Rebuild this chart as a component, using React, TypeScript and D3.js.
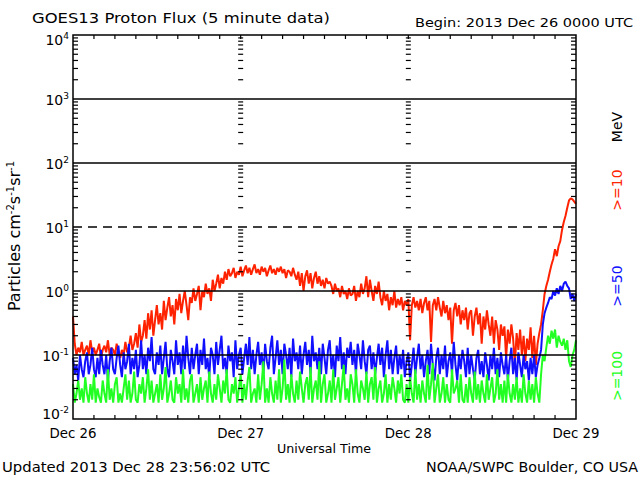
// @ts-nocheck

import React from 'react'
import * as d3 from 'd3'

// GOES13 proton flux, 5 minute data, every 15 minutes
// (one row per hour)
const begin = new Date(Date.UTC(2013, 11, 26))
const end = new Date(Date.UTC(2013, 11, 29))
const stepMinutes = 15

const dayLabels = ['Dec 26', 'Dec 27', 'Dec 28', 'Dec 29']
const decades = [4, 3, 2, 1, 0, -1, -2]
const solidDecades = [3, 2, 0, -1]
const dashedDecades = [1]
const channelLabels = ['>=10', '>=50', '>=100']

const p10 = [
  0.4, 0.15, 0.1, 0.13,
  0.11, 0.16, 0.1, 0.12,
  0.14, 0.1, 0.17, 0.11,
  0.13, 0.1, 0.12, 0.15,
  0.09, 0.12, 0.14, 0.11,
  0.17, 0.1, 0.13, 0.12,
  0.1, 0.15, 0.11, 0.09,
  0.12, 0.1, 0.16, 0.11,
  0.13, 0.2, 0.12, 0.15,
  0.22, 0.13, 0.3, 0.16,
  0.2, 0.35, 0.18, 0.45,
  0.25, 0.5, 0.2, 0.35,
  0.6, 0.3, 0.45, 0.25,
  0.7, 0.35, 0.55, 0.8,
  0.4, 0.6, 0.3, 0.75,
  0.5, 0.9, 0.45, 0.7,
  1.0, 0.6, 0.35, 0.8,
  0.65, 1.1, 0.7, 0.9,
  1.2, 0.5, 1.0, 0.8,
  1.3, 0.9, 1.1, 0.7,
  1.5, 1.0, 1.3, 1.8,
  1.1, 1.6, 1.3, 2.0,
  1.5, 2.2, 1.7, 1.9,
  2.3, 1.6, 2.0, 1.8,
  2.4, 1.7, 2.1, 2.5,
  1.9, 2.3, 1.8, 2.2,
  2.6, 1.9, 2.2, 1.8,
  2.4, 2.0, 2.3, 1.7,
  2.1, 2.5, 1.9, 2.2,
  1.8, 2.3, 2.0, 2.4,
  1.9, 2.2, 1.6, 2.1,
  2.0, 1.7, 2.3, 1.8,
  1.5, 2.0, 1.2, 1.9,
  1.0, 1.7, 2.1, 1.3,
  1.9, 1.1, 1.6, 2.0,
  1.3, 1.7, 1.2, 1.5,
  1.1, 1.6, 1.3, 1.4,
  1.2, 0.9, 1.3, 1.0,
  1.1, 0.8, 1.2, 0.9,
  1.0, 0.75, 1.1, 0.85,
  0.9, 1.2, 0.7, 1.0,
  0.8, 1.3, 0.9, 1.1,
  1.7, 0.8, 1.5, 1.0,
  0.7, 1.2, 0.9, 1.4,
  0.8, 0.6, 1.0, 0.7,
  0.9, 0.5, 0.8, 0.6,
  1.0, 0.55, 0.75, 0.6,
  0.8, 0.5, 0.7, 0.6,
  0.75, 0.17, 0.6, 0.8,
  0.55, 0.7, 0.5, 0.75,
  0.45, 0.65, 0.8, 0.5,
  0.7, 0.16, 0.6, 0.75,
  0.5, 0.8, 0.55, 0.4,
  0.7, 0.45, 0.6, 0.35,
  0.55, 0.15, 0.5, 0.65,
  0.4, 0.6, 0.3, 0.5,
  0.35, 0.55, 0.25, 0.45,
  0.5, 0.2, 0.4, 0.55,
  0.3, 0.45, 0.15, 0.4,
  0.25, 0.5, 0.3, 0.2,
  0.4, 0.15, 0.35, 0.25,
  0.12, 0.3, 0.2, 0.28,
  0.09, 0.25, 0.15, 0.3,
  0.18, 0.07, 0.22, 0.12,
  0.25, 0.1, 0.2, 0.08,
  0.18, 0.12, 0.27, 0.09,
  0.2, 0.07, 0.15, 0.22,
  0.3, 0.5, 0.9, 1.2,
  1.5, 2.0, 2.6, 3.2,
  4.5, 3.5, 5.0, 6.0,
  9, 12, 15, 20,
  26, 28, 27, 25,
  23,
]

const p50 = [
  0.09, 0.05, 0.07, 0.04,
  0.1, 0.06, 0.045, 0.08,
  0.11, 0.05, 0.07, 0.13,
  0.06, 0.045, 0.09, 0.05,
  0.12, 0.07, 0.05, 0.1,
  0.04, 0.08, 0.13, 0.06,
  0.05, 0.09, 0.14, 0.07,
  0.045, 0.11, 0.06, 0.08,
  0.15, 0.05, 0.09, 0.06,
  0.12, 0.045, 0.07, 0.17,
  0.06, 0.1, 0.05, 0.13,
  0.08, 0.19, 0.06, 0.05,
  0.11, 0.07, 0.14, 0.05,
  0.09, 0.16, 0.06, 0.045,
  0.12, 0.08, 0.05, 0.17,
  0.07, 0.11, 0.05, 0.14,
  0.06, 0.2, 0.09, 0.05,
  0.13, 0.06, 0.1, 0.15,
  0.05, 0.12, 0.07, 0.18,
  0.06, 0.09, 0.045, 0.13,
  0.1, 0.05, 0.16, 0.07,
  0.12, 0.2, 0.06, 0.09,
  0.05, 0.14, 0.08, 0.11,
  0.045, 0.17, 0.06, 0.1,
  0.13, 0.05, 0.09, 0.15,
  0.07, 0.19, 0.06, 0.12,
  0.05, 0.1, 0.16, 0.07,
  0.11, 0.05, 0.15, 0.08,
  0.06, 0.13, 0.2, 0.05,
  0.09, 0.17, 0.07, 0.12,
  0.05, 0.15, 0.1, 0.06,
  0.13, 0.045, 0.18, 0.08,
  0.11, 0.06, 0.14, 0.05,
  0.1, 0.16, 0.07, 0.12,
  0.05, 0.2, 0.08, 0.11,
  0.06, 0.13, 0.05, 0.15,
  0.09, 0.05, 0.12, 0.17,
  0.06, 0.1, 0.045, 0.14,
  0.08, 0.19, 0.06, 0.11,
  0.05, 0.13, 0.09, 0.16,
  0.07, 0.12, 0.05, 0.15,
  0.1, 0.06, 0.17, 0.08,
  0.05, 0.12, 0.14, 0.06,
  0.11, 0.05, 0.09, 0.15,
  0.07, 0.13, 0.045, 0.1,
  0.17, 0.06, 0.12, 0.05,
  0.09, 0.14, 0.05, 0.1,
  0.06, 0.12, 0.045, 0.08,
  0.11, 0.04, 0.07, 0.13,
  0.05, 0.09, 0.15, 0.06,
  0.1, 0.045, 0.08, 0.12,
  0.05, 0.15, 0.07, 0.04,
  0.09, 0.13, 0.05, 0.1,
  0.06, 0.14, 0.045, 0.08,
  0.11, 0.05, 0.16, 0.07,
  0.04, 0.1, 0.06, 0.12,
  0.08, 0.045, 0.13, 0.05,
  0.1, 0.06, 0.04, 0.09,
  0.12, 0.05, 0.08, 0.045,
  0.11, 0.07, 0.04, 0.1,
  0.06, 0.13, 0.05, 0.09,
  0.045, 0.11, 0.07, 0.05,
  0.1, 0.04, 0.08, 0.13,
  0.05, 0.09, 0.04, 0.11,
  0.07, 0.045, 0.1, 0.06,
  0.08, 0.04, 0.09, 0.05,
  0.1, 0.045, 0.07, 0.09,
  0.12, 0.3, 0.45, 0.55,
  0.65, 0.8, 0.75, 1.0,
  0.85, 1.1, 0.9, 1.2,
  1.0, 1.3, 1.4, 1.2,
  1.1, 0.75, 0.9, 0.7,
  0.9,
]

const p100 = [
  0.035, 0.018, 0.025, 0.04,
  0.02, 0.03, 0.018, 0.045,
  0.025, 0.018, 0.035, 0.02,
  0.05, 0.018, 0.03, 0.022,
  0.018, 0.04, 0.025, 0.018,
  0.06, 0.02, 0.03, 0.018,
  0.035, 0.045, 0.018, 0.025,
  0.018, 0.03, 0.05, 0.02,
  0.04, 0.018, 0.025, 0.055,
  0.02, 0.018, 0.035, 0.025,
  0.045, 0.018, 0.03, 0.06,
  0.02, 0.04, 0.018, 0.025,
  0.035, 0.018, 0.05, 0.02,
  0.03, 0.065, 0.018, 0.025,
  0.04, 0.02, 0.018, 0.045,
  0.025, 0.035, 0.018, 0.06,
  0.02, 0.03, 0.018, 0.04,
  0.05, 0.018, 0.025, 0.035,
  0.018, 0.045, 0.02, 0.03,
  0.04, 0.018, 0.055, 0.025,
  0.018, 0.035, 0.02, 0.05,
  0.03, 0.018, 0.04, 0.025,
  0.06, 0.02, 0.018, 0.035,
  0.025, 0.045, 0.018, 0.03,
  0.05, 0.018, 0.035, 0.02,
  0.04, 0.065, 0.018, 0.025,
  0.03, 0.018, 0.05, 0.02,
  0.035, 0.08, 0.018, 0.03,
  0.018, 0.045, 0.025, 0.018,
  0.04, 0.02, 0.06, 0.018,
  0.03, 0.085, 0.02, 0.035,
  0.018, 0.05, 0.025, 0.018,
  0.04, 0.02, 0.055, 0.03,
  0.018, 0.035, 0.045, 0.02,
  0.065, 0.018, 0.03, 0.04,
  0.02, 0.08, 0.018, 0.035,
  0.05, 0.018, 0.025, 0.04,
  0.018, 0.06, 0.02, 0.03,
  0.045, 0.018, 0.035, 0.07,
  0.02, 0.03, 0.018, 0.05,
  0.035, 0.018, 0.06, 0.025,
  0.018, 0.04, 0.03, 0.02,
  0.055, 0.018, 0.035, 0.045,
  0.02, 0.065, 0.018, 0.03,
  0.04, 0.018, 0.025, 0.05,
  0.018, 0.035, 0.02, 0.045,
  0.03, 0.018, 0.04, 0.025,
  0.05, 0.02, 0.018, 0.035,
  0.018, 0.045, 0.025, 0.018,
  0.06, 0.02, 0.035, 0.018,
  0.04, 0.025, 0.018, 0.07,
  0.02, 0.035, 0.075, 0.018,
  0.03, 0.05, 0.018, 0.025,
  0.045, 0.018, 0.035, 0.02,
  0.018, 0.06, 0.025, 0.03,
  0.04, 0.018, 0.05, 0.02,
  0.018, 0.035, 0.018, 0.045,
  0.025, 0.018, 0.055, 0.02,
  0.035, 0.018, 0.04, 0.025,
  0.018, 0.05, 0.02, 0.03,
  0.045, 0.018, 0.025, 0.06,
  0.02, 0.035, 0.018, 0.04,
  0.018, 0.05, 0.025, 0.018,
  0.035, 0.02, 0.045, 0.018,
  0.03, 0.018, 0.05, 0.025,
  0.018, 0.04, 0.02, 0.035,
  0.018, 0.045, 0.025, 0.018,
  0.05, 0.1, 0.08, 0.13,
  0.2, 0.15, 0.24, 0.18,
  0.25, 0.13, 0.2, 0.16,
  0.14, 0.18, 0.12, 0.17,
  0.08, 0.065, 0.1, 0.12,
  0.17,
]

const series = [
  { values: p10, color: '#ff2200' },
  { values: p50, color: '#1010ff' },
  { values: p100, color: '#22ff22' },
]
const labelColors = ['#ff2200', '#1010ff', '#22ff22']

const margin = { left: 73, top: 35, right: 64, bottom: 61 }
const W = 640
const H = 480
const font = 'DejaVu Sans, sans-serif'

const App = () => {
  const x = d3.scaleUtc().domain([begin, end]).range([margin.left, W - margin.right])
  const y = d3.scaleLog().domain([1e-2, 1e4]).range([H - margin.bottom, margin.top])
  const [x0, x1] = x.range()
  const [y0, y1] = y.range()

  const sampleTime = (i) => new Date(begin.getTime() + i * stepMinutes * 60000)
  const line = d3
    .line()
    .x((d, i) => x(sampleTime(i)))
    .y((d) => y(d))

  const minor = []
  for (let e = -2; e < 4; e += 1) {
    for (let k = 2; k < 10; k += 1) minor.push(k * 10 ** e)
  }
  const hourTicks = d3.utcHour.every(3).range(begin, end).slice(1)
  const days = d3.utcDay.range(begin, d3.utcDay.offset(end, 1))
  const innerDays = days.slice(1, -1)

  return (
    <svg
      width={W}
      height={H}
      style={{ position: 'absolute', left: 0, top: 0, background: '#fff' }}
      fontFamily={font}
    >
      {/* data */}
      {series.map((s, k) => (
        <path
          key={k}
          d={line(s.values)}
          fill="none"
          stroke={s.color}
          strokeWidth={2}
          strokeLinejoin="bevel"
        />
      ))}

      {/* grid */}
      {solidDecades.map((e) => (
        <line key={e} x1={x0} x2={x1} y1={y(10 ** e)} y2={y(10 ** e)} stroke="#000" strokeWidth={1.5} />
      ))}
      {dashedDecades.map((e) => (
        <line
          key={e}
          x1={x0}
          x2={x1}
          y1={y(10 ** e)}
          y2={y(10 ** e)}
          stroke="#000"
          strokeWidth={1.5}
          strokeDasharray="9 6"
        />
      ))}

      {/* log minor ticks: axes and day columns */}
      {minor.map((v) => (
        <g key={v} stroke="#000" strokeWidth={1.2}>
          <line x1={x0} x2={x0 + 5} y1={y(v)} y2={y(v)} />
          <line x1={x1 - 5} x2={x1} y1={y(v)} y2={y(v)} />
          {innerDays.map((d) => (
            <line key={+d} x1={x(d) - 2.5} x2={x(d) + 2.5} y1={y(v)} y2={y(v)} />
          ))}
        </g>
      ))}

      {/* time ticks */}
      {hourTicks.map((t) => (
        <g key={+t} stroke="#000" strokeWidth={1.2}>
          <line x1={x(t)} x2={x(t)} y1={y0} y2={y0 - 4} />
          <line x1={x(t)} x2={x(t)} y1={y1} y2={y1 + 4} />
        </g>
      ))}

      <rect x={x0} y={y1} width={x1 - x0} height={y0 - y1} fill="none" stroke="#000" strokeWidth={1.5} />

      {/* y tick labels */}
      {decades.map((e) => {
        let base = y(10 ** e) + 6
        if (e === 4) base = y(10 ** e) + 10
        if (e === -2) base = y(10 ** e)
        return (
          <text key={e} x={69} y={base} textAnchor="end" fontSize={14}>
            10
            <tspan dy={-6} fontSize={9}>
              {e}
            </tspan>
          </text>
        )
      })}

      {/* day labels */}
      {days.map((d, i) => (
        <text key={+d} x={x(d)} y={438} textAnchor="middle" fontSize={14} textLength={47} lengthAdjust="spacingAndGlyphs">
          {dayLabels[i]}
        </text>
      ))}

      <text x={324} y={453} textAnchor="middle" fontSize={13} textLength={94} lengthAdjust="spacingAndGlyphs">
        Universal Time
      </text>
      <text x={32} y={23} fontSize={14} textLength={298} lengthAdjust="spacingAndGlyphs">
        GOES13 Proton Flux (5 minute data)
      </text>
      <text x={415} y={27} fontSize={13} textLength={218} lengthAdjust="spacingAndGlyphs">
        Begin: 2013 Dec 26 0000 UTC
      </text>
      <text x={2} y={472} fontSize={14} textLength={268} lengthAdjust="spacingAndGlyphs">
        Updated 2013 Dec 28 23:56:02 UTC
      </text>
      <text x={638} y={472} textAnchor="end" fontSize={14} textLength={212} lengthAdjust="spacingAndGlyphs">
        NOAA/SWPC Boulder, CO USA
      </text>

      {/* y axis title */}
      <text transform="translate(20,236) rotate(-90)" textAnchor="middle" fontSize={16}>
        Particles cm
        <tspan dy={-6} fontSize={10}>-2</tspan>
        <tspan dy={6}>s</tspan>
        <tspan dy={-6} fontSize={10}>-1</tspan>
        <tspan dy={6}>sr</tspan>
        <tspan dy={-6} fontSize={10}>-1</tspan>
      </text>

      {/* channel legend */}
      <text transform="translate(622,127) rotate(-90)" textAnchor="middle" fontSize={14}>
        MeV
      </text>
      {channelLabels.map((c, i) => (
        <text
          key={c}
          transform={`translate(622,${[190, 286, 376][i]}) rotate(-90)`}
          textAnchor="middle"
          fontSize={14}
          fill={labelColors[i]}
        >
          {c}
        </text>
      ))}
    </svg>
  )
}

export default App
